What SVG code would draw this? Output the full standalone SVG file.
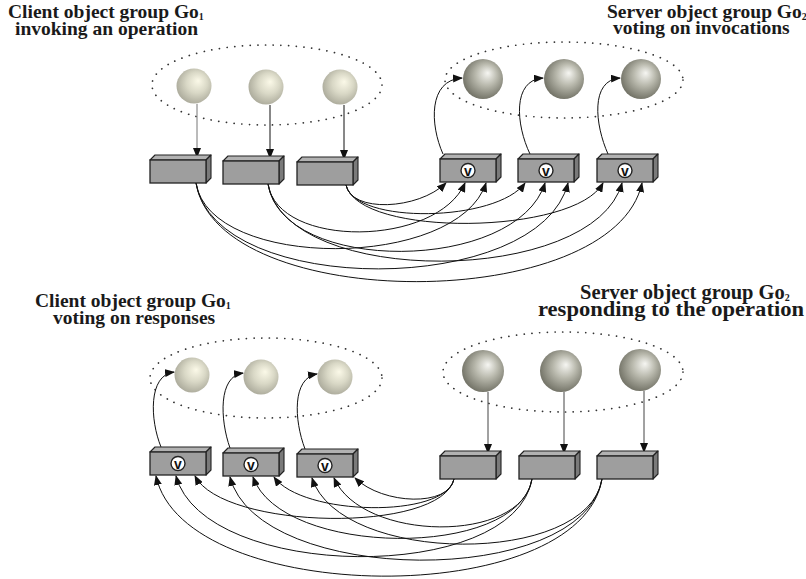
<svg xmlns="http://www.w3.org/2000/svg" xmlns:xlink="http://www.w3.org/1999/xlink" width="806" height="579" viewBox="0 0 806 579">
<style>
.title{font-family:"Liberation Serif","Times New Roman",serif;font-weight:bold;font-size:19.5px;fill:#1a1a1a}
.sub{font-size:10px}
.grp{fill:none;stroke:#333;stroke-width:1.7;stroke-dasharray:0.1 7.6;stroke-linecap:round}
.con{fill:none;stroke:#111;stroke-width:1}
.vtx{font-family:"Liberation Sans",Arial,sans-serif;font-weight:bold;font-size:14px;fill:#111;text-anchor:middle}
</style>
<defs>
<radialGradient id="gc" cx="0.55" cy="0.45" r="0.6" fx="0.62" fy="0.35">
<stop offset="0" stop-color="#fbf9e8"/>
<stop offset="0.5" stop-color="#d9d8c6"/>
<stop offset="1" stop-color="#a8a798"/>
</radialGradient>
<radialGradient id="gs" cx="0.55" cy="0.45" r="0.6" fx="0.62" fy="0.35">
<stop offset="0" stop-color="#f6f6f2"/>
<stop offset="0.45" stop-color="#b9b9ad"/>
<stop offset="1" stop-color="#6c6c60"/>
</radialGradient>
<marker id="ah" markerUnits="userSpaceOnUse" markerWidth="10" markerHeight="8" refX="9" refY="4" orient="auto">
<path d="M0,0 L10,4 L0,8 z" fill="#111"/>
</marker>
<g id="box">
<polygon points="0,0 5,-5 61,-5 56,0" fill="#b2b2b2" stroke="#222" stroke-width="1.1" stroke-linejoin="round"/>
<polygon points="56,0 61,-5 61,18 56,23" fill="#7a7a7a" stroke="#222" stroke-width="1.1" stroke-linejoin="round"/>
<rect x="0" y="0" width="56" height="23" fill="#9e9e9e" stroke="#222" stroke-width="1.3"/>
</g>
<g id="vote">
<circle cx="0" cy="0" r="7" fill="#fff" stroke="#222" stroke-width="1.4"/>
<text x="0" y="5" class="vtx">v</text>
</g>
</defs>
<rect width="806" height="579" fill="#fff"/>

<g id="titles">
<text class="title"><tspan x="8" y="18">Client object group Go</tspan><tspan class="sub" dy="2">1</tspan><tspan x="15" y="35">invoking an operation</tspan></text>
<text class="title"><tspan x="607" y="18">Server object group Go</tspan><tspan class="sub" dy="2">2</tspan><tspan x="613" y="34">voting on invocations</tspan></text>
<text class="title"><tspan x="35" y="307">Client object group Go</tspan><tspan class="sub" dy="2">1</tspan><tspan x="53" y="324">voting on responses</tspan></text>
<text class="title" style="font-size:20.5px"><tspan x="580" y="299">Server object group Go</tspan><tspan class="sub" dy="2">2</tspan><tspan x="538" y="316" textLength="266" lengthAdjust="spacingAndGlyphs">responding to the operation</tspan></text>
</g>

<g id="group-client-top"><ellipse class="grp" cx="267" cy="85" rx="115" ry="40"/></g>
<g id="group-server-top"><ellipse class="grp" cx="564" cy="80" rx="119" ry="38"/></g>
<g id="group-client-bottom"><ellipse class="grp" cx="266" cy="378" rx="116" ry="40"/></g>
<g id="group-server-bottom"><ellipse class="grp" cx="563" cy="372" rx="120" ry="40"/></g>

<g id="client-obj-t1"><circle cx="194" cy="86" r="17.5" fill="url(#gc)"/></g>
<g id="client-obj-t2"><circle cx="266" cy="87" r="17.5" fill="url(#gc)"/></g>
<g id="client-obj-t3"><circle cx="340" cy="87" r="17.5" fill="url(#gc)"/></g>
<g id="server-obj-t1"><circle cx="483" cy="79" r="20" fill="url(#gs)"/></g>
<g id="server-obj-t2"><circle cx="564" cy="79" r="20" fill="url(#gs)"/></g>
<g id="server-obj-t3"><circle cx="641" cy="79" r="20" fill="url(#gs)"/></g>
<g id="client-obj-b1"><circle cx="192" cy="375" r="17.5" fill="url(#gc)"/></g>
<g id="client-obj-b2"><circle cx="261" cy="377" r="17.5" fill="url(#gc)"/></g>
<g id="client-obj-b3"><circle cx="335" cy="377" r="17.5" fill="url(#gc)"/></g>
<g id="server-obj-b1"><circle cx="483" cy="371" r="21" fill="url(#gs)"/></g>
<g id="server-obj-b2"><circle cx="561" cy="371" r="21" fill="url(#gs)"/></g>
<g id="server-obj-b3"><circle cx="640" cy="370" r="21" fill="url(#gs)"/></g>

<g id="connectors">
<path class="con" d="M197 104 V157" marker-end="url(#ah)" style="stroke:#777"/>
<path class="con" d="M270 105 V158" marker-end="url(#ah)"/>
<path class="con" d="M344 105 V159" marker-end="url(#ah)"/>
<path class="con" d="M443 154 C430 125 428 80 462 78" marker-end="url(#ah)"/>
<path class="con" d="M530 154 C516 125 512 80 543 78" marker-end="url(#ah)"/>
<path class="con" d="M608 154 C595 125 590 80 620 78" marker-end="url(#ah)"/>
<path class="con" d="M346 185 C351 213 418 210 446 183" marker-end="url(#ah)"/>
<path class="con" d="M346 185 C355 225 497 222 525 183" marker-end="url(#ah)"/>
<path class="con" d="M346 185 C359 238 575 235 603 183" marker-end="url(#ah)"/>
<path class="con" d="M268 184 C278 249 437 247 465 183" marker-end="url(#ah)"/>
<path class="con" d="M268 184 C282 275 517 273 545 183" marker-end="url(#ah)"/>
<path class="con" d="M268 184 C286 288 594 286 622 183" marker-end="url(#ah)"/>
<path class="con" d="M196 183 C210 271 458 270 486 183" marker-end="url(#ah)"/>
<path class="con" d="M196 183 C215 298 540 297 568 183" marker-end="url(#ah)"/>
<path class="con" d="M196 183 C218 315 614 314 642 183" marker-end="url(#ah)"/>

<path class="con" d="M488 392 V453" marker-end="url(#ah)" style="stroke:#444"/>
<path class="con" d="M564 392 V453" marker-end="url(#ah)" style="stroke:#444"/>
<path class="con" d="M644 391 V452" marker-end="url(#ah)" style="stroke:#444"/>
<path class="con" d="M161 447 C150 420 148 375 174 372" marker-end="url(#ah)"/>
<path class="con" d="M230 448 C220 420 218 376 243 373" marker-end="url(#ah)"/>
<path class="con" d="M305 449 C294 420 292 378 317 374" marker-end="url(#ah)"/>
<path class="con" d="M454 479 C449 507 383 505 355 478" marker-end="url(#ah)"/>
<path class="con" d="M454 479 C445 519 302 516 274 477" marker-end="url(#ah)"/>
<path class="con" d="M454 479 C441 534 223 530 195 476" marker-end="url(#ah)"/>
<path class="con" d="M532 479 C522 544 362 542 334 478" marker-end="url(#ah)"/>
<path class="con" d="M532 479 C518 560 281 557 253 477" marker-end="url(#ah)"/>
<path class="con" d="M532 479 C514 585 204 581 176 476" marker-end="url(#ah)"/>
<path class="con" d="M602 479 C588 567 340 565 312 478" marker-end="url(#ah)"/>
<path class="con" d="M602 479 C583 589 258 586 230 477" marker-end="url(#ah)"/>
<path class="con" d="M602 479 C580 611 184 607 156 476" marker-end="url(#ah)"/>
</g>

<g id="client-stub-t1"><use href="#box" x="150" y="160"/></g>
<g id="client-stub-t2"><use href="#box" x="223" y="161"/></g>
<g id="client-stub-t3"><use href="#box" x="297" y="162"/></g>
<g id="server-voter-t1"><use href="#box" x="440" y="159"/><use href="#vote" x="468" y="170.5"/></g>
<g id="server-voter-t2"><use href="#box" x="518" y="159"/><use href="#vote" x="546" y="170.5"/></g>
<g id="server-voter-t3"><use href="#box" x="597" y="159"/><use href="#vote" x="625" y="170.5"/></g>
<g id="client-voter-b1"><use href="#box" x="150" y="452"/><use href="#vote" x="178" y="463.5"/></g>
<g id="client-voter-b2"><use href="#box" x="223" y="453"/><use href="#vote" x="251" y="464.5"/></g>
<g id="client-voter-b3"><use href="#box" x="297" y="454"/><use href="#vote" x="325" y="465.5"/></g>
<g id="server-stub-b1"><use href="#box" x="440" y="456"/></g>
<g id="server-stub-b2"><use href="#box" x="519" y="456"/></g>
<g id="server-stub-b3"><use href="#box" x="597" y="456"/></g>
</svg>
